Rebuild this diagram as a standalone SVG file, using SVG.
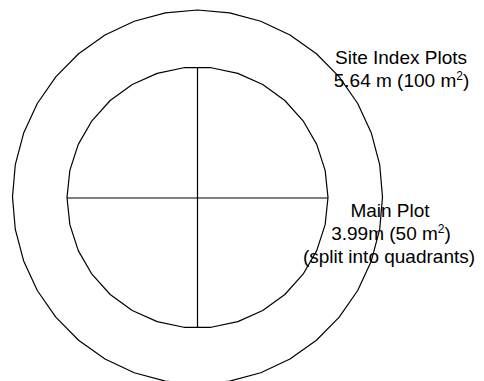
<svg xmlns="http://www.w3.org/2000/svg" width="484" height="381" viewBox="0 0 484 381">
<style>
.ln{fill:none;stroke:#000;stroke-width:1.2;stroke-linejoin:round}
.t{font-family:"Liberation Sans",Arial,sans-serif;font-size:19px;fill:#000;text-anchor:middle}
.sup{font-size:12px}
</style>
<rect width="484" height="381" fill="#fff"/>
<g id="site-index-plot">
<polygon class="ln" points="382.5,197 379.69,164.53 371.34,133.04 357.71,103.5 339.22,76.8 316.42,53.75 290,35.05 260.77,21.28 229.63,12.84 197.5,10 165.37,12.84 134.23,21.28 105,35.05 78.58,53.75 55.78,76.8 37.29,103.5 23.66,133.04 15.31,164.53 12.5,197 15.31,229.47 23.66,260.96 37.29,290.5 55.78,317.2 78.58,340.25 105,358.95 134.23,372.72 165.37,381.16 197.5,384 229.63,381.16 260.77,372.72 290,358.95 316.42,340.25 339.22,317.2 357.71,290.5 371.34,260.96 379.69,229.47"/>
</g>
<g id="main-plot">
<polygon class="ln" points="328,197.5 325.15,170.37 316.72,144.42 303.08,120.79 284.82,100.52 262.75,84.48 237.83,73.39 211.14,67.72 183.86,67.72 157.17,73.39 132.25,84.48 110.18,100.52 91.92,120.79 78.28,144.42 69.85,170.37 67,197.5 69.85,224.63 78.28,250.58 91.92,274.21 110.18,294.48 132.25,310.52 157.17,321.61 183.86,327.28 211.14,327.28 237.83,321.61 262.75,310.52 284.82,294.48 303.08,274.21 316.72,250.58 325.15,224.63"/>
</g>
<g id="connectors">
<line class="ln" x1="197.5" y1="67.5" x2="197.5" y2="327.5"/>
<line class="ln" x1="67" y1="198" x2="328" y2="198"/>
</g>
<g id="label-site">
<text class="t" x="401" y="64">Site Index Plots</text>
<text class="t" x="401.5" y="87">5.64 m (100 m<tspan class="sup" dy="-7">2</tspan><tspan dy="7">)</tspan></text>
</g>
<g id="label-main">
<text class="t" x="390" y="217">Main Plot</text>
<text class="t" x="391" y="240">3.99m (50 m<tspan class="sup" dy="-7">2</tspan><tspan dy="7">)</tspan></text>
<text class="t" x="389" y="263">(split into quadrants)</text>
</g>
</svg>
